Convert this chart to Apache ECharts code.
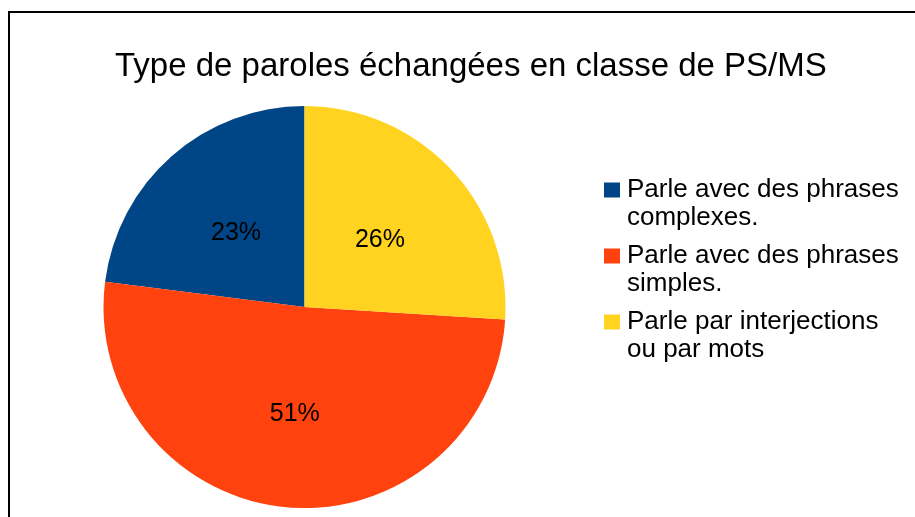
<!DOCTYPE html>
<html>
<head>
<meta charset="utf-8">
<script src="https://cdn.jsdelivr.net/npm/echarts@6/dist/echarts.min.js"></script>
<style>
  html, body { margin: 0; padding: 0; background: #fff; }
  #chart { width: 915px; height: 517px; }
</style>
</head>
<body>
<div id="chart"></div>
<script>
// Type de paroles échangées
const categories = [
  'Parle avec des phrases\ncomplexes.',
  'Parle avec des phrases\nsimples.',
  'Parle par interjections\nou par mots'
];
const percentages = [23, 51, 26];
const colors = ['#004586', '#ff420e', '#ffd320'];

const chart = echarts.init(document.getElementById('chart'));

const pieData = categories.map((name, i) => ({
  name: name,
  value: percentages[i],
  itemStyle: { color: colors[i] }
}));

// carré aligné sur la première ligne du texte (boîte 18x56)
const legendIcon = 'path://M0,0L0,0M0,6.5H16V21.5H0ZM18,56L18,56';

const option = {
  animation: false,
  textStyle: { fontFamily: 'Liberation Sans' },
  title: {
    text: 'Type de paroles échangées en classe de PS/MS',
    left: 115,
    top: 50,
    padding: 0,
    textStyle: {
      fontFamily: 'Liberation Sans',
      fontSize: 33,
      fontWeight: 'normal',
      color: '#000'
    }
  },
  legend: {
    orient: 'vertical',
    left: 604,
    top: 176,
    padding: 0,
    itemWidth: 18,
    itemHeight: 56,
    itemGap: 10,
    icon: legendIcon,
    data: categories,
    textStyle: {
      fontFamily: 'Liberation Sans',
      fontSize: 26,
      lineHeight: 28,
      color: '#000'
    }
  },
  // cadre du graphique
  graphic: [{
    type: 'rect',
    shape: { x: 9, y: 12, width: 1000, height: 1000 },
    style: { fill: 'none', stroke: '#000', lineWidth: 2 },
    silent: true
  }],
  series: [{
    type: 'pie',
    center: [304.5, 307],
    radius: 201,
    startAngle: 90,
    clockwise: false,
    data: pieData,
    itemStyle: { borderWidth: 0 },
    label: {
      show: true,
      position: 'inside',
      formatter: '{c}%',
      offset: [0, 4],
      fontFamily: 'Liberation Sans',
      fontSize: 25,
      color: '#000'
    },
    labelLine: { show: false },
    emphasis: { disabled: true }
  }]
};

chart.setOption(option);
</script>
</body>
</html>
